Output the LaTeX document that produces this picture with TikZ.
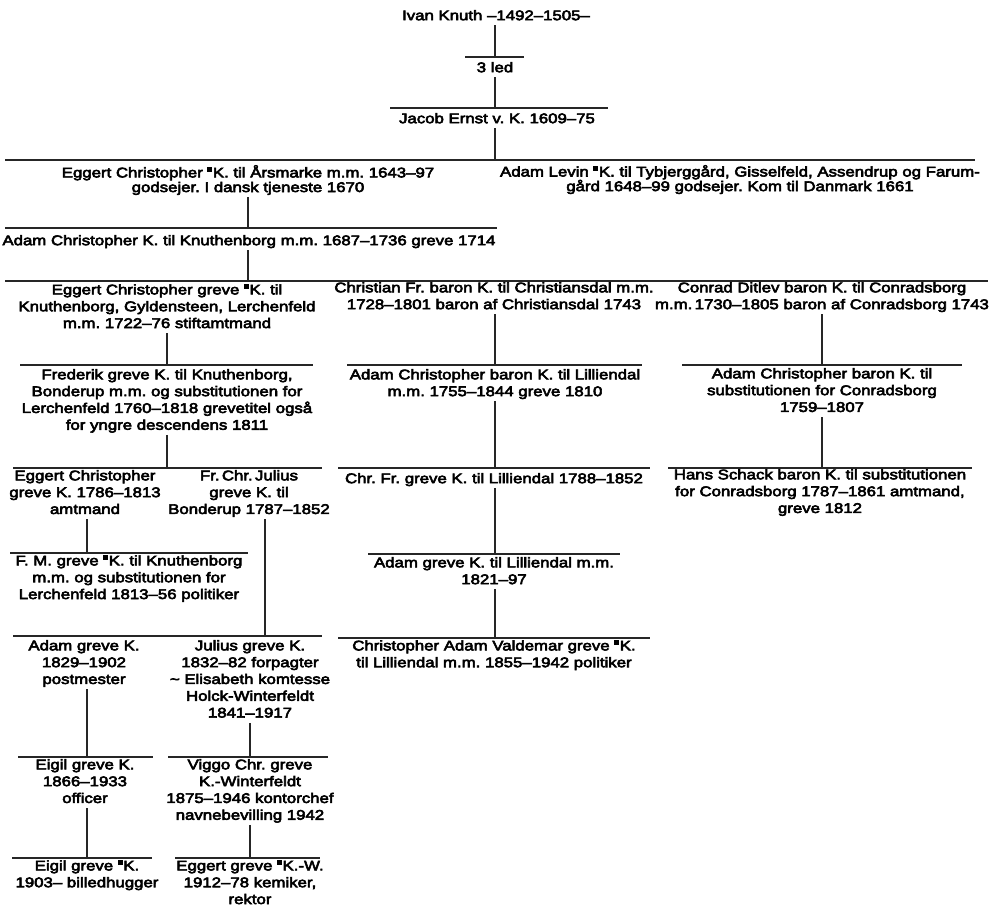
\documentclass[tikz,border=0pt]{standalone}
\usepackage{fontspec}
\setmainfont{Liberation Sans}[FakeStretch=1.2,FakeBold=4]
\newcommand{\bq}{\raisebox{0.4em}{\rule{0.33em}{0.33em}}\kern0.06em}
\tikzset{
  person/.style={anchor=north, inner sep=0pt, align=center,
    font=\fontsize{14}{16.8}\selectfont\frenchspacing,
    execute at begin node={\rule{0pt}{13pt}},
    execute at end node={\rule[-5pt]{0pt}{5pt}}},
  persontight/.style={person, font=\fontsize{14}{14.6}\selectfont\frenchspacing},
  ln/.style={line width=1.3pt, black!85}
}
\begin{document}
\frenchspacing
\begin{tikzpicture}[x=1pt,y=-1pt]
\useasboundingbox (0,0) rectangle (995,908);

% --- top ---
\node[person] (ivan) at (496,7) {Ivan Knuth --1492--1505--};
\coordinate (v0) at (495,57);
\coordinate (s0l) at (465,57); \coordinate (s0r) at (524,57);
\draw[ln] (s0l) -- (s0r);
\draw[ln] (ivan.south -| v0) -- (v0);
\node[person] (led) at (495,59) {3 led};

\coordinate (v1) at (495,108);
\coordinate (s1l) at (390,108); \coordinate (s1r) at (608,108);
\draw[ln] (s1l) -- (s1r);
\draw[ln] (led.south -| v1) -- (v1);
\node[person] (jacob) at (497,110) {Jacob Ernst v. K. 1609--75};

\coordinate (v2) at (495,160);
\coordinate (s2l) at (5,160); \coordinate (s2r) at (975,160);
\draw[ln] (s2l) -- (s2r);
\draw[ln] (jacob.south -| v2) -- (v2);
\node[persontight] (eggA) at (248,165) {Eggert Christopher \bq K. til Årsmarke m.m. 1643--97\\godsejer. I dansk tjeneste 1670};
\node[persontight] (levin) at (740,165) {Adam Levin \bq K. til Tybjerggård, Gisselfeld, Assendrup og Farum-\\gård 1648--99 godsejer. Kom til Danmark 1661};

\coordinate (v3) at (248,228);
\coordinate (s3l) at (5,228); \coordinate (s3r) at (497,228);
\draw[ln] (s3l) -- (s3r);
\draw[ln] (eggA.south -| v3) -- (v3);
\node[person] (adamC) at (249,232) {Adam Christopher K. til Knuthenborg m.m. 1687--1736 greve 1714};

\coordinate (v4) at (248,281);
\coordinate (s4l) at (5,281); \coordinate (s4r) at (988,281);
\draw[ln] (s4l) -- (s4r);
\draw[ln] (adamC.south -| v4) -- (v4);
\node[person] (eggG) at (167,284) {Eggert Christopher greve \bq K. til\\Knuthenborg, Gyldensteen, Lerchenfeld\\m.m. 1722--76 stiftamtmand};
\node[person] (chrF) at (494,282) {Christian Fr. baron K. til Christiansdal m.m.\\1728--1801 baron af Christiansdal 1743};
\node[person] (conrad) at (822,282) {Conrad Ditlev baron K. til Conradsborg\\m.m.\,1730--1805 baron af Conradsborg 1743};

% --- left branch ---
\coordinate (v5) at (167,365);
\coordinate (s5l) at (20,365); \coordinate (s5r) at (313,365);
\draw[ln] (s5l) -- (s5r);
\draw[ln] (eggG.south -| v5) -- (v5);
\node[person] (fred) at (167,369) {Frederik greve K. til Knuthenborg,\\Bonderup m.m. og substitutionen for\\Lerchenfeld 1760--1818 grevetitel også\\for yngre descendens 1811};

\coordinate (v8) at (167,468);
\coordinate (s8l) at (13,468); \coordinate (s8r) at (322,468);
\draw[ln] (s8l) -- (s8r);
\draw[ln] (fred.south -| v8) -- (v8);
\node[person] (eggC) at (85,470) {Eggert Christopher\\greve K. 1786--1813\\amtmand};
\node[person] (frcj) at (249,470) {Fr.\,Chr.\,Julius\\greve K. til\\Bonderup 1787--1852};

\coordinate (v11) at (87,553);
\coordinate (s11l) at (10,553); \coordinate (s11r) at (248,553);
\draw[ln] (s11l) -- (s11r);
\draw[ln] (eggC.south -| v11) -- (v11);
\node[person] (fm) at (129,555) {F. M. greve \bq K. til Knuthenborg\\m.m. og substitutionen for\\Lerchenfeld 1813--56 politiker};

\coordinate (v12) at (265,636);
\coordinate (s12l) at (13,636); \coordinate (s12r) at (322,636);
\draw[ln] (s12l) -- (s12r);
\draw[ln] (frcj.south -| v12) -- (v12);
\node[person] (adamg) at (84,640) {Adam greve K.\\1829--1902\\postmester};
\node[person] (julius) at (250,640) {Julius greve K.\\1832--82 forpagter\\\textasciitilde\ Elisabeth komtesse\\Holck-Winterfeldt\\1841--1917};

\coordinate (v15) at (87,757);
\coordinate (s15l) at (18,757); \coordinate (s15r) at (153,757);
\draw[ln] (s15l) -- (s15r);
\draw[ln] (adamg.south -| v15) -- (v15);
\node[person] (eigil) at (85,759) {Eigil greve K.\\1866--1933\\officer};

\coordinate (v16) at (250,757);
\coordinate (s16l) at (168,757); \coordinate (s16r) at (328,757);
\draw[ln] (s16l) -- (s16r);
\draw[ln] (julius.south -| v16) -- (v16);
\node[person] (viggo) at (250,759) {Viggo Chr. greve\\K.-Winterfeldt\\1875--1946 kontorchef\\navnebevilling 1942};

\coordinate (v17) at (87,858);
\coordinate (s17l) at (12,858); \coordinate (s17r) at (152,858);
\draw[ln] (s17l) -- (s17r);
\draw[ln] (eigil.south -| v17) -- (v17);
\node[person] (eigil2) at (87,860) {Eigil greve \bq K.\\1903-- billedhugger};

\coordinate (v18) at (250,858);
\coordinate (s18l) at (175,858); \coordinate (s18r) at (320,858);
\draw[ln] (s18l) -- (s18r);
\draw[ln] (viggo.south -| v18) -- (v18);
\node[person] (eggW) at (250,860) {Eggert greve \bq K.-W.\\1912--78 kemiker,\\rektor};

% --- middle branch ---
\coordinate (v6) at (495,365);
\coordinate (s6l) at (347,365); \coordinate (s6r) at (642,365);
\draw[ln] (s6l) -- (s6r);
\draw[ln] (chrF.south -| v6) -- (v6);
\node[person] (adamB) at (495,369) {Adam Christopher baron K. til Lilliendal\\m.m. 1755--1844 greve 1810};

\coordinate (v9) at (495,468);
\coordinate (s9l) at (338,468); \coordinate (s9r) at (650,468);
\draw[ln] (s9l) -- (s9r);
\draw[ln] (adamB.south -| v9) -- (v9);
\node[person] (chrFg) at (494,470) {Chr. Fr. greve K. til Lilliendal 1788--1852};

\coordinate (v13) at (495,554);
\coordinate (s13l) at (368,554); \coordinate (s13r) at (620,554);
\draw[ln] (s13l) -- (s13r);
\draw[ln] (chrFg.south -| v13) -- (v13);
\node[person] (adamL) at (494,557) {Adam greve K. til Lilliendal m.m.\\1821--97};

\coordinate (v14) at (495,638);
\coordinate (s14l) at (338,638); \coordinate (s14r) at (650,638);
\draw[ln] (s14l) -- (s14r);
\draw[ln] (adamL.south -| v14) -- (v14);
\node[person] (chrAV) at (494,640) {Christopher Adam Valdemar greve \bq K.\\til Lilliendal m.m. 1855--1942 politiker};

% --- right branch ---
\coordinate (v7) at (822,365);
\coordinate (s7l) at (682,365); \coordinate (s7r) at (962,365);
\draw[ln] (s7l) -- (s7r);
\draw[ln] (conrad.south -| v7) -- (v7);
\node[person] (adamCB) at (822,368) {Adam Christopher baron K. til\\substitutionen for Conradsborg\\1759--1807};

\coordinate (v10) at (822,468);
\coordinate (s10l) at (668,468); \coordinate (s10r) at (972,468);
\draw[ln] (s10l) -- (s10r);
\draw[ln] (adamCB.south -| v10) -- (v10);
\node[person] (hans) at (820,469) {Hans Schack baron K. til substitutionen\\for Conradsborg 1787--1861 amtmand,\\greve 1812};
\end{tikzpicture}
\end{document}
